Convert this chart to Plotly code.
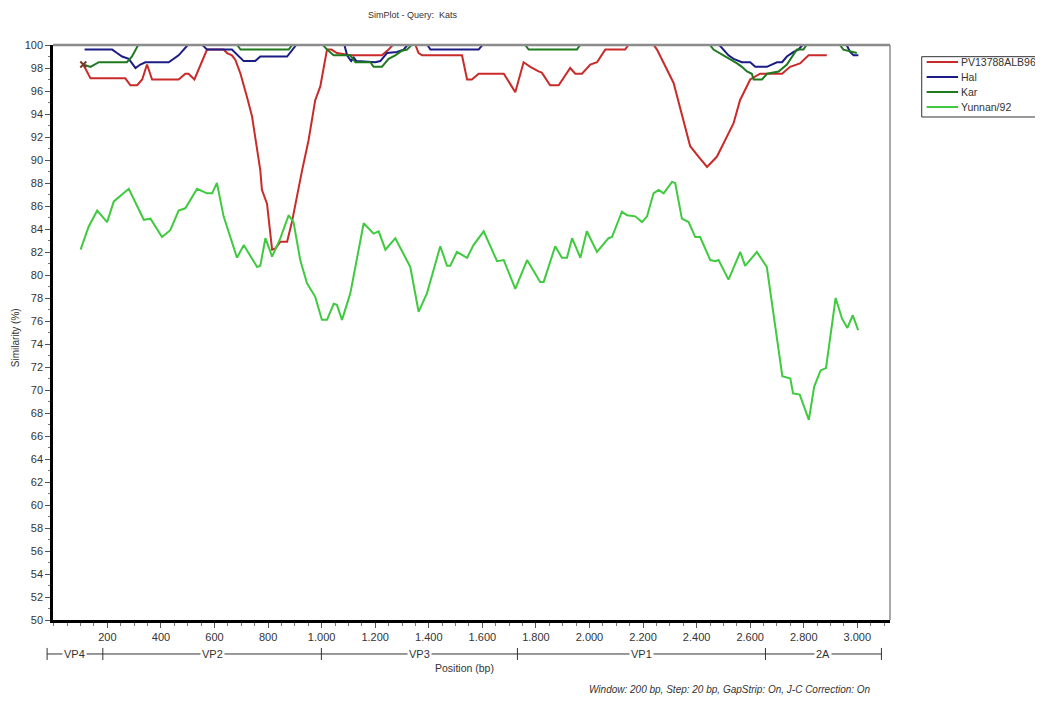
import plotly.graph_objects as go

# ---------------- data ----------------
x_pv = [110, 137, 267, 286, 311, 330, 348, 367, 466, 491, 503, 525, 572, 634, 647, 665, 678, 697,
        721, 740, 771, 777, 796, 815, 827, 846, 871, 889, 927, 951, 976, 995, 1020, 1037, 1057,
        1107, 1225, 1250, 1265, 1350, 1362, 1375, 1524, 1543, 1561, 1586, 1680, 1723, 1754, 1779,
        1810, 1822, 1853, 1885, 1928, 1947, 1972, 2003, 2028, 2059, 2133, 2145, 2240, 2252, 2314,
        2351, 2376, 2407, 2439, 2476, 2538, 2562, 2600, 2637, 2719, 2749, 2786, 2818, 2886]
y_pv = [98.3, 97.1, 97.1, 96.5, 96.5, 97.0, 98.3, 97.0, 97.0, 97.5, 97.5, 97.0, 99.6, 99.6, 99.3,
        99.1, 98.7, 97.5, 95.5, 93.8, 89.1, 87.4, 86.2, 82.2, 82.3, 82.9, 82.9, 84.6, 89.1, 91.7,
        95.2, 96.4, 99.6, 99.6, 99.3, 99.1, 99.1, 99.6, 100, 100, 99.3, 99.1, 99.1, 97.0, 97.0,
        97.5, 97.5, 95.9, 98.5, 98.1, 97.7, 97.6, 96.5, 96.5, 98.0, 97.5, 97.5, 98.3, 98.5, 99.6,
        99.6, 100, 100, 99.6, 96.7, 93.5, 91.2, 90.3, 89.4, 90.3, 93.2, 95.2, 97.0, 97.5, 97.5,
        98.1, 98.4, 99.1, 99.1]

x_hal = [115, 218, 236, 255, 280, 305, 323, 342, 429, 448, 466, 485, 500, 555, 572, 665, 678, 709,
         752, 771, 871, 889, 905, 1085, 1095, 1110, 1120, 1130, 1200, 1219, 1244, 1281, 1306, 1320,
         1395, 1406, 1586, 1600, 2485, 2500, 2519, 2538, 2569, 2600, 2619, 2662, 2700, 2719, 2737,
         2762, 2780, 2795, 2960, 2973, 2986, 3004]
y_hal = [99.6, 99.6, 99.3, 99.0, 98.8, 98.0, 98.3, 98.5, 98.5, 98.8, 99.1, 99.6, 100, 100, 99.6,
         99.6, 99.3, 98.6, 98.6, 99.0, 99.0, 99.5, 100, 100, 99.1, 98.6, 98.9, 98.6, 98.5, 98.6,
         99.3, 99.4, 99.6, 100, 100, 99.6, 99.6, 100, 100, 99.6, 99.1, 98.8, 98.5, 98.5, 98.1,
         98.1, 98.5, 98.5, 99.0, 99.4, 99.6, 100, 100, 99.4, 99.1, 99.1]

x_kar = [110, 137, 168, 273, 292, 305, 315, 685, 697, 877, 890, 1005, 1020, 1045, 1107, 1126, 1182,
         1194, 1225, 1250, 1275, 1300, 1319, 1335, 1760, 1773, 1953, 1965, 2450, 2463, 2500, 2525,
         2551, 2569, 2588, 2606, 2613, 2644, 2663, 2706, 2737, 2774, 2799, 2810, 2935, 2948, 2980,
         2998]
y_kar = [98.3, 98.1, 98.5, 98.5, 99.0, 99.6, 100, 100, 99.6, 99.6, 100, 100, 99.6, 99.1, 99.1, 98.5,
         98.5, 98.1, 98.1, 98.8, 99.1, 99.5, 99.6, 100, 100, 99.6, 99.6, 100, 100, 99.6, 99.1, 98.8,
         98.4, 98.1, 97.7, 97.5, 97.0, 97.0, 97.5, 97.7, 98.3, 99.6, 99.6, 100, 100, 99.6, 99.4,
         99.3]

x_yun = [100, 130, 162, 199, 224, 280, 336, 361, 404, 435, 466, 491, 535, 572, 591, 609, 634, 684,
         709, 759, 771, 790, 815, 846, 877, 895, 920, 945, 976, 1001, 1020, 1045, 1057, 1076, 1107,
         1157, 1194, 1213, 1238, 1275, 1331, 1362, 1393, 1443, 1468, 1480, 1505, 1543, 1567, 1605,
         1655, 1680, 1723, 1767, 1816, 1829, 1872, 1897, 1916, 1935, 1966, 1990, 2028, 2071, 2084,
         2121, 2140, 2171, 2196, 2215, 2239, 2258, 2277, 2308, 2320, 2345, 2370, 2395, 2413, 2451,
         2470, 2482, 2519, 2563, 2581, 2625, 2662, 2720, 2750, 2760, 2785, 2819, 2839, 2863, 2883,
         2919, 2943, 2963, 2983, 3003]
y_yun = [82.2, 84.2, 85.6, 84.6, 86.4, 87.5, 84.8, 84.9, 83.3, 83.9, 85.6, 85.8, 87.5, 87.1, 87.1,
         88.0, 85.1, 81.5, 82.6, 80.7, 80.8, 83.2, 81.6, 83.2, 85.2, 84.6, 81.3, 79.3, 78.1, 76.1,
         76.1, 77.5, 77.4, 76.1, 78.4, 84.5, 83.6, 83.8, 82.2, 83.2, 80.7, 76.8, 78.4, 82.5, 80.8,
         80.8, 82.0, 81.5, 82.6, 83.8, 81.2, 81.3, 78.8, 81.3, 79.4, 79.4, 82.5, 81.5, 81.5, 83.2,
         81.5, 83.8, 82.0, 83.2, 83.3, 85.5, 85.2, 85.1, 84.6, 85.1, 87.1, 87.4, 87.1, 88.1, 88.0,
         84.9, 84.6, 83.3, 83.3, 81.3, 81.2, 81.3, 79.6, 82.0, 80.8, 82.0, 80.7, 71.2, 71.0, 69.7,
         69.6, 67.4, 70.3, 71.7, 71.9, 78.0, 76.2, 75.4, 76.5, 75.2]

series_names = ["PV13788ALB96", "Hal", "Kar", "Yunnan/92"]
series_colors = ["#c92a2a", "#1c1c86", "#1f7a1f", "#3fca3f"]

x_tick_vals = [200, 400, 600, 800, 1000, 1200, 1400, 1600, 1800, 2000, 2200, 2400, 2600, 2800, 3000]
x_tick_text = ["200", "400", "600", "800", "1.000", "1.200", "1.400", "1.600", "1.800", "2.000",
               "2.200", "2.400", "2.600", "2.800", "3.000"]

region_names = ["VP4", "VP2", "VP3", "VP1", "2A"]
region_bounds = [-25, 183, 999, 1731, 2657, 3090]

X_MIN, X_MAX = -3, 3122
FONT = "Liberation Sans, Arial, sans-serif"


def to_paper(bp):
    return (bp - X_MIN) / (X_MAX - X_MIN)


fig = go.Figure()
for name, xs, ys, col in zip(series_names,
                             [x_pv, x_hal, x_kar, x_yun],
                             [y_pv, y_hal, y_kar, y_yun],
                             series_colors):
    fig.add_trace(go.Scatter(x=xs, y=ys, mode="lines", name=name, showlegend=False,
                             line=dict(color=col, width=2)))

# small cross where the first series starts
fig.add_trace(go.Scatter(x=[x_pv[0]], y=[y_pv[0]], mode="markers", showlegend=False,
                         hoverinfo="skip",
                         marker=dict(symbol="x-thin", size=6, line=dict(color="#7a3a2a", width=2))))

shapes = []
annotations = []

# top / right thin grey frame (covers the lines where they reach 100 %)
shapes.append(dict(type="line", xref="paper", yref="paper", x0=0, x1=1, y0=1, y1=1,
                   line=dict(color="#8c8c8c", width=2.6), layer="above"))
shapes.append(dict(type="line", xref="paper", yref="paper", x0=1, x1=1, y0=0, y1=1,
                   line=dict(color="#8c8c8c", width=1.5), layer="above"))

# region bar
bar_y = -0.0591
shapes.append(dict(type="line", xref="paper", yref="paper",
                   x0=to_paper(region_bounds[0]), x1=to_paper(region_bounds[-1]),
                   y0=bar_y, y1=bar_y, line=dict(color="#333333", width=1)))
for b in region_bounds:
    shapes.append(dict(type="line", xref="paper", yref="paper", x0=to_paper(b), x1=to_paper(b),
                       y0=bar_y + 0.0105, y1=bar_y - 0.0105, line=dict(color="#333333", width=1)))
for i, nm in enumerate(region_names):
    mid = (region_bounds[i] + region_bounds[i + 1]) / 2
    annotations.append(dict(text=nm, xref="paper", yref="paper", x=to_paper(mid), y=bar_y,
                            xanchor="center", yanchor="middle", showarrow=False,
                            bgcolor="white", borderpad=1,
                            font=dict(family=FONT, size=11, color="#333333")))

# legend (drawn manually to match the compact spacing)
leg_x0, leg_top, leg_bot = 1.0379, 0.9797, 0.8748
shapes.append(dict(type="rect", xref="paper", yref="paper", x0=leg_x0, x1=1.25, y0=leg_bot,
                   y1=leg_top, line=dict(color="#333333", width=1), fillcolor="white"))
leg_rows = [0.9704, 0.9443, 0.9183, 0.8922]
for nm, col, yy in zip(series_names, series_colors, leg_rows):
    shapes.append(dict(type="line", xref="paper", yref="paper", x0=1.0438, x1=1.0813, y0=yy, y1=yy,
                       line=dict(color=col, width=2)))
    annotations.append(dict(text=nm, xref="paper", yref="paper", x=1.0825, y=yy, xanchor="left",
                            yanchor="middle", showarrow=False,
                            font=dict(family=FONT, size=10.5, color="#333333")))

# titles and notes
annotations.append(dict(text="SimPlot - Query:  Kats", xref="paper", yref="paper", x=0.430, y=1.052,
                        xanchor="center", yanchor="middle", showarrow=False,
                        font=dict(family=FONT, size=9, color="#333333")))
annotations.append(dict(text="Position (bp)", xref="paper", yref="paper", x=0.492, y=-0.0835,
                        xanchor="center", yanchor="middle", showarrow=False,
                        font=dict(family=FONT, size=10.5, color="#333333")))
annotations.append(dict(text="Similarity (%)", xref="paper", yref="paper", x=-0.0454, y=0.49,
                        xanchor="center", yanchor="middle", showarrow=False, textangle=-90,
                        font=dict(family=FONT, size=10, color="#333333")))
annotations.append(dict(text="<i>Window: 200 bp, Step: 20 bp, GapStrip: On, J-C Correction: On</i>",
                        xref="paper", yref="paper", x=0.980, y=-0.1217, xanchor="right",
                        yanchor="middle", showarrow=False,
                        font=dict(family=FONT, size=10, color="#333333")))

# the page body adds an 8px offset, so the figure is drawn 8px smaller
fig.update_layout(
    width=1035, height=693,
    margin=dict(l=45, r=153, t=37, b=81),
    paper_bgcolor="white", plot_bgcolor="white",
    font=dict(family=FONT, size=11, color="#333333"),
    showlegend=False,
    xaxis=dict(range=[X_MIN, X_MAX], showgrid=False, zeroline=False, showline=True,
               linecolor="black", linewidth=2.5, ticks="outside", ticklen=5, tickwidth=1,
               tickcolor="#555555", tickvals=x_tick_vals, ticktext=x_tick_text,
               tickfont=dict(family=FONT, size=11, color="#333333"),
               minor=dict(ticks="outside", ticklen=3, tick0=0, dtick=50, tickcolor="#777777")),
    yaxis=dict(range=[50, 100], showgrid=False, zeroline=False, showline=True,
               linecolor="black", linewidth=2.5, ticks="outside", ticklen=5, tickwidth=1,
               tickcolor="#555555", tick0=50, dtick=2,
               tickfont=dict(family=FONT, size=11, color="#333333"),
               minor=dict(ticks="outside", ticklen=2, dtick=1, tickcolor="#777777")),
    shapes=shapes,
    annotations=annotations,
)

fig.write_html("out.html")
